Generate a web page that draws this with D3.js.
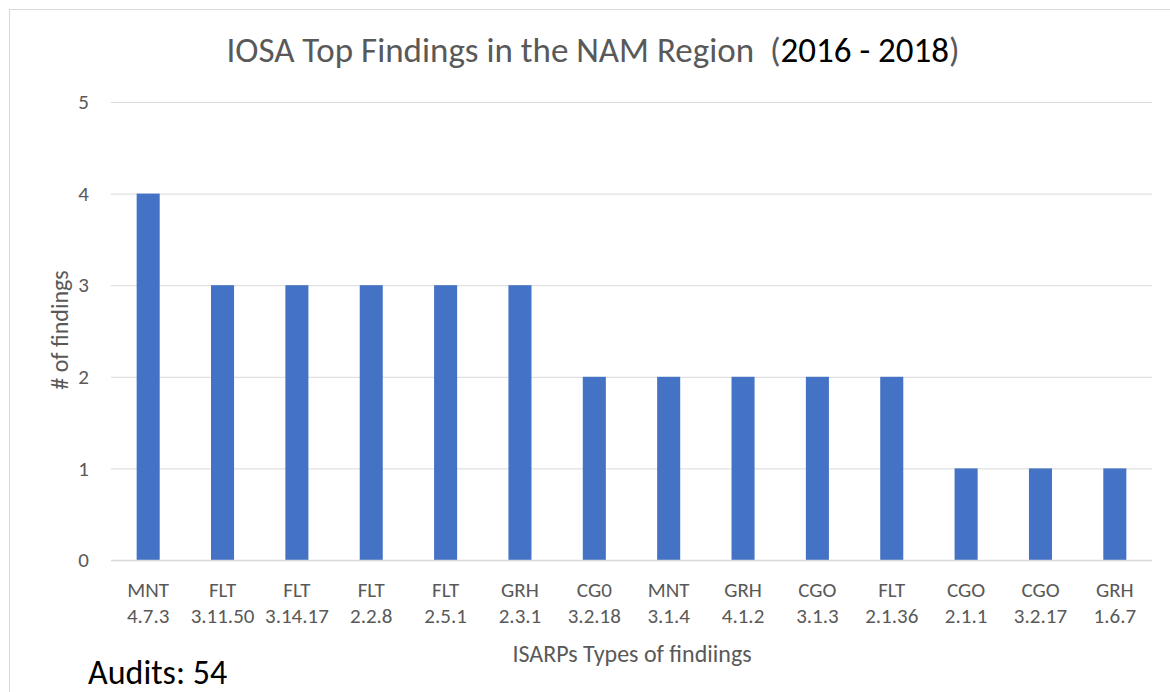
<!DOCTYPE html>
<html><head><meta charset="utf-8">
<script src="https://cdn.jsdelivr.net/npm/d3@7"></script>
<style>
body{margin:0;background:#fff;}
svg{display:block;}
svg text{font-family:Carlito,Calibri,Lato,"Open Sans",sans-serif;}
</style></head>
<body><svg id="c" width="1170" height="692"></svg>
<script>
const categories = [
  ["MNT","4.7.3"],["FLT","3.11.50"],["FLT","3.14.17"],["FLT","2.2.8"],["FLT","2.5.1"],
  ["GRH","2.3.1"],["CG0","3.2.18"],["MNT","3.1.4"],["GRH","4.1.2"],["CGO","3.1.3"],
  ["FLT","2.1.36"],["CGO","2.1.1"],["CGO","3.2.17"],["GRH","1.6.7"]
];
const values = [4,3,3,3,3,3,2,2,2,2,2,1,1,1];
const yTicks = [0,1,2,3,4,5];

const svg = d3.select("#c");
const pLeft = 111, pRight = 1152, pTop = 102, pBottom = 560;
const gray = "#595959";
const FONT = "Carlito,Calibri,Lato,'Open Sans',sans-serif";

// outer chart border
svg.append("rect").attr("x",9.5).attr("y",9.5).attr("width",1200).attr("height",800)
  .attr("fill","none").attr("stroke","#D9D9D9").attr("stroke-width",1);

const keys = categories.map((d,i)=>i);
const x = d3.scaleBand().domain(keys).range([pLeft,pRight]).paddingInner(0.69).paddingOuter(0.345);
const y = d3.scaleLinear().domain([0,5]).range([pBottom,pTop]);

// gridlines
const yAxis = d3.axisLeft(y).tickValues(yTicks).tickSize(-(pRight-pLeft)).tickFormat(d3.format("d")).tickPadding(22);
const gy = svg.append("g").attr("transform",`translate(${pLeft},0)`).call(yAxis)
  .attr("font-family",FONT).attr("font-size",21);
gy.select(".domain").remove();
gy.selectAll(".tick line").attr("stroke","#D9D9D9").attr("stroke-width",1);
gy.selectAll(".tick text").attr("fill",gray).attr("font-size",21);

// bars
svg.append("g").selectAll("rect").data(values).join("rect")
  .attr("x",(d,i)=>x(i)).attr("width",x.bandwidth())
  .attr("y",d=>y(d)).attr("height",d=>y(0)-y(d))
  .attr("fill","#4472C4");

// baseline
svg.append("line").attr("x1",pLeft).attr("x2",pRight).attr("y1",y(0)+0.5).attr("y2",y(0)+0.5)
  .attr("stroke","#D9D9D9").attr("stroke-width",1.5);

// x axis labels
const xAxis = d3.axisBottom(x).tickSize(0).tickFormat(()=>"");
const gx = svg.append("g").attr("transform",`translate(0,${pBottom})`).call(xAxis)
  .attr("font-family",FONT).attr("font-size",21);
gx.select(".domain").remove();
gx.selectAll(".tick").each(function(i){
  const t = d3.select(this).select("text").text(null).attr("fill",gray).attr("font-size",21).attr("y",0).attr("dy",null);
  t.append("tspan").attr("x",0).attr("y",37).text(categories[i][0]);
  t.append("tspan").attr("x",0).attr("y",63).text(categories[i][1]);
});

// title
const title = svg.append("text").attr("x",593).attr("y",62).attr("text-anchor","middle")
  .attr("font-size",35).attr("fill",gray).attr("xml:space","preserve").style("white-space","pre");
title.append("tspan").text("IOSA Top Findings in the NAM Region  (");
title.append("tspan").attr("fill","#000").text("2016 - 2018");
title.append("tspan").text(")");

// axis titles
svg.append("text").attr("transform",`translate(68,330) rotate(-90)`).attr("text-anchor","middle")
  .attr("font-size",24).attr("fill",gray).text("# of findings");
svg.append("text").attr("x",632).attr("y",662).attr("text-anchor","middle")
  .attr("font-size",24).attr("fill",gray).text("ISARPs Types of findiings");

// audits note
svg.append("text").attr("x",88).attr("y",684).attr("font-size",34).attr("fill","#000").text("Audits: 54");
</script></body></html>
